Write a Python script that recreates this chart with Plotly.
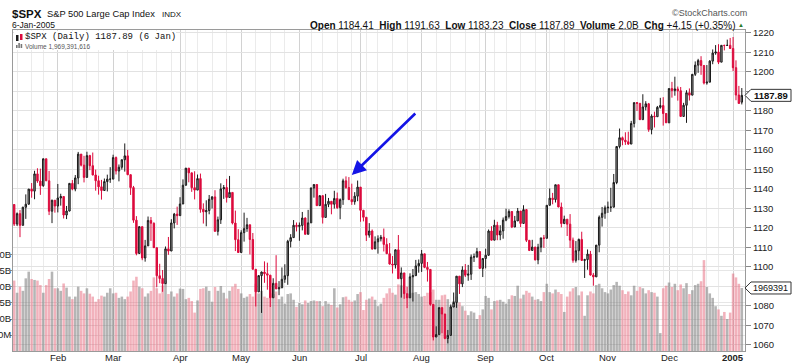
import pandas as pd
import plotly.graph_objects as go

# ---------------- data (S&P 500 daily, 9-Jan-2004 .. 6-Jan-2005) ----------------
holidays = ["2004-01-19", "2004-02-16", "2004-04-09", "2004-05-31", "2004-06-11",
            "2004-07-05", "2004-09-06", "2004-11-25", "2004-12-24"]

opens = [
 1131.92,1121.86,1127.23,1121.22,1130.52,1132.05,1139.83,1138.77,1147.62,1143.94,1141.55,1155.37,1144.05,1128.48,1134.11,
 1131.13,1135.26,1136.03,1126.52,1128.59,1142.76,1139.81,1145.54,1157.76,1152.11,1145.81,1156.99,1151.82,1147.06,1144.11,1140.99,1139.09,1143.67,1144.91,
 1144.94,1155.97,1149.10,1151.03,1154.87,1156.86,1147.20,1140.58,1123.89,1106.78,1120.57,1104.49,1110.70,1123.75,1122.32,1109.78,1095.40,1093.95,1091.33,1109.19,1108.06,1122.47,1127.00,
 1126.21,1132.17,1141.81,1150.57,1148.16,1140.53,1139.32,1145.20,1129.44,1128.17,1128.84,1134.61,1135.82,1118.15,1124.09,1139.93,1140.60,1135.53,1138.11,1122.41,1113.89,
 1107.30,1117.49,1119.55,1121.53,1113.99,1098.70,1087.12,1095.45,1097.28,1096.44,1095.70,1084.10,1091.49,1088.68,1089.19,1093.56,1095.41,1113.05,1114.94,1121.28,
 1120.68,1121.20,1124.99,1116.64,1122.50,1140.42,1142.18,1131.33,1136.47,1125.29,1132.01,1133.56,1132.05,1135.02,1130.30,1134.41,1144.06,1140.65,1134.43,1133.35,1136.20,
 1140.84,1128.94,1125.38,1116.21,1118.33,1109.11,1112.81,1114.35,1115.14,1111.47,1106.69,1101.39,1100.90,1108.67,1093.88,1096.84,1086.20,1084.07,1094.83,1095.42,1100.43,
 1101.72,1106.62,1099.69,1098.63,1080.70,1063.97,1065.22,1079.04,1075.79,1063.23,1064.80,1079.34,1081.71,1095.17,1091.23,1098.35,1095.68,1096.19,1104.96,1105.09,1107.77,1099.15,
 1104.24,1105.91,1118.31,1113.63,1121.30,1116.27,1118.38,1123.92,1125.82,1128.33,1120.37,1123.50,1128.55,1122.20,1129.30,1113.56,1108.36,1110.11,1103.52,1110.06,1114.80,
 1114.58,1131.50,1135.17,1134.48,1142.05,1130.65,1122.14,1124.39,1121.84,1113.65,1103.29,1108.20,1114.02,1103.23,1103.66,1106.49,1095.74,1094.81,1111.09,1125.34,1127.44,
 1130.20,1130.51,1130.54,1143.20,1161.67,1166.17,1164.89,1164.08,1162.91,1173.48,1184.17,1183.81,1175.43,1181.94,1183.55,1170.34,1177.24,1176.94,1181.76,1182.65,1178.57,
 1173.78,1191.37,1190.33,1191.17,1190.25,1177.07,1182.81,1189.24,1188.00,1198.68,1203.38,1205.72,1203.21,1194.20,1194.65,1205.45,1209.57,1210.13,1204.92,1213.54,1213.45,1213.55,
 1211.92,1202.08,1188.05,1184.41]

highs = [
 1131.92,1127.85,1129.07,1130.75,1137.11,1139.83,1142.93,1149.21,1150.51,1150.31,1155.38,1155.37,1149.14,1134.39,1134.17,
 1142.45,1137.44,1136.03,1131.17,1142.79,1144.46,1147.02,1158.89,1157.76,1156.88,1158.98,1157.40,1158.57,1149.81,1146.69,1144.54,1145.24,1147.23,1151.07,
 1157.45,1156.54,1152.44,1154.97,1163.23,1159.94,1147.32,1141.45,1125.96,1120.63,1120.57,1113.76,1125.76,1125.50,1122.72,1109.78,1101.52,1098.32,1110.38,1115.27,1124.37,1127.60,1130.83,
 1135.67,1144.81,1150.57,1150.57,1148.16,1148.97,1147.29,1147.78,1132.52,1134.08,1136.80,1136.18,1139.26,1125.72,1142.77,1141.92,1145.08,1146.56,1138.11,1128.80,1119.26,
 1118.72,1127.74,1125.07,1121.53,1117.30,1098.70,1095.69,1097.55,1102.77,1102.10,1095.70,1094.10,1105.93,1092.62,1099.64,1101.28,1113.80,1116.71,1123.95,1122.69,
 1122.70,1128.10,1125.31,1129.17,1140.54,1142.18,1142.18,1136.47,1136.47,1137.36,1135.28,1133.56,1138.96,1138.05,1135.05,1145.15,1146.34,1145.97,1142.60,1138.26,1144.20,
 1140.84,1129.15,1125.38,1122.37,1119.12,1115.57,1116.11,1116.30,1119.60,1114.63,1112.17,1105.52,1108.88,1116.27,1099.66,1096.84,1089.82,1096.65,1098.84,1103.51,1103.73,
 1108.60,1106.62,1102.45,1098.79,1080.70,1069.46,1079.04,1079.04,1075.79,1067.58,1080.66,1086.78,1095.17,1095.17,1100.26,1101.40,1100.94,1106.29,1106.78,1109.68,1107.77,1104.24,
 1109.24,1119.11,1120.80,1124.08,1123.05,1121.30,1125.26,1129.78,1129.46,1128.33,1126.06,1130.14,1128.55,1131.54,1129.30,1113.61,1113.81,1110.11,1111.77,1114.80,1116.31,
 1131.64,1140.13,1137.87,1142.05,1142.05,1132.92,1126.20,1124.39,1127.01,1114.96,1113.17,1114.46,1117.96,1104.09,1108.87,1108.14,1096.81,1111.10,1126.29,1130.67,1131.40,
 1133.41,1140.48,1147.57,1161.67,1170.87,1166.77,1168.96,1169.25,1174.80,1184.17,1184.48,1183.81,1188.46,1184.90,1184.00,1178.18,1179.52,1182.46,1186.62,1186.94,1178.66,
 1191.37,1194.80,1197.46,1192.41,1192.17,1184.05,1190.51,1191.45,1198.74,1205.29,1206.61,1207.97,1203.21,1203.43,1205.93,1211.42,1213.66,1214.13,1213.54,1213.85,1216.47,1217.33,
 1217.80,1205.84,1192.73,1191.63]

lows = [
 1120.90,1120.90,1115.19,1121.22,1124.54,1132.05,1135.40,1134.62,1143.01,1136.85,1141.00,1144.05,1126.50,1122.38,1127.73,
 1127.87,1131.33,1124.74,1124.44,1128.39,1139.21,1138.70,1142.33,1151.44,1143.24,1145.81,1149.54,1146.85,1139.00,1136.98,1134.43,1138.96,1138.62,1143.01,
 1144.94,1147.31,1143.78,1149.81,1148.77,1146.97,1136.84,1122.53,1105.87,1106.78,1103.36,1102.61,1110.70,1113.25,1109.69,1089.54,1091.57,1087.16,1091.33,1106.13,1108.06,1119.66,1121.46,
 1126.20,1132.17,1141.64,1143.30,1138.41,1134.52,1139.32,1127.70,1122.15,1120.75,1126.90,1129.84,1118.09,1116.03,1121.95,1134.81,1132.91,1135.53,1121.70,1108.04,1107.23,
 1107.30,1112.89,1117.90,1106.30,1098.63,1079.63,1087.12,1076.32,1091.76,1088.24,1079.36,1084.10,1088.49,1085.43,1089.19,1091.77,1090.74,1109.91,1114.86,1118.10,
 1113.32,1118.64,1116.57,1116.64,1122.50,1135.45,1131.17,1131.33,1122.16,1125.29,1130.55,1126.89,1129.83,1129.64,1124.37,1131.73,1139.94,1134.24,1131.72,1131.81,1133.62,
 1123.06,1123.26,1113.21,1114.92,1108.72,1109.11,1106.71,1112.99,1107.83,1106.67,1101.07,1096.55,1099.10,1093.88,1084.16,1083.56,1078.78,1084.07,1082.17,1095.42,1096.96,
 1097.34,1099.26,1092.40,1079.98,1062.23,1063.97,1065.22,1065.92,1062.82,1060.72,1064.80,1079.34,1078.93,1086.06,1089.57,1094.73,1092.82,1093.24,1102.46,1104.62,1099.15,1094.72,
 1099.18,1105.60,1113.57,1113.63,1113.61,1113.62,1114.39,1123.35,1124.72,1119.82,1120.37,1123.50,1120.34,1122.20,1112.67,1108.05,1108.36,1103.24,1101.29,1107.42,1109.68,
 1114.58,1131.50,1132.03,1132.94,1130.50,1120.19,1122.14,1115.77,1109.63,1102.06,1102.14,1103.33,1103.15,1094.25,1098.47,1095.47,1090.29,1094.81,1107.43,1120.60,1124.62,
 1127.60,1128.12,1130.54,1142.34,1160.66,1162.32,1162.48,1162.51,1162.91,1171.43,1179.85,1175.32,1175.43,1180.15,1169.19,1167.89,1171.41,1176.94,1181.08,1172.37,1173.81,
 1173.78,1186.72,1187.71,1185.18,1177.07,1177.07,1173.79,1185.24,1188.00,1197.84,1199.44,1198.41,1193.49,1193.36,1194.65,1203.85,1208.71,1203.92,1204.92,1210.95,1213.41,1211.65,
 1200.32,1185.39,1183.72,1183.23]

closes = [
 1121.86,1127.23,1121.22,1130.52,1132.05,1139.83,1138.77,1147.62,1143.94,1141.55,1155.37,1144.05,1128.48,1134.11,1131.13,
 1135.26,1136.03,1126.52,1128.59,1142.76,1139.81,1145.54,1157.76,1152.11,1145.81,1156.99,1151.82,1147.06,1144.11,1140.99,1139.09,1143.67,1144.91,1144.94,
 1155.97,1149.10,1151.03,1154.87,1156.86,1147.20,1140.58,1123.89,1106.78,1120.57,1104.49,1110.70,1123.75,1122.32,1109.78,1095.40,1093.95,1091.33,1109.19,1108.06,1122.47,1127.00,1126.21,
 1132.17,1141.81,1150.57,1148.16,1140.53,1139.32,1145.20,1129.44,1128.17,1128.84,1134.61,1135.82,1118.15,1124.09,1139.93,1140.60,1135.53,1138.11,1122.41,1113.89,1107.30,
 1117.49,1119.55,1121.53,1113.99,1098.70,1087.12,1095.45,1097.28,1096.44,1095.70,1084.10,1091.49,1088.68,1089.19,1093.56,1095.41,1113.05,1114.94,1121.28,1120.68,
 1121.20,1124.99,1116.64,1122.50,1140.42,1142.18,1131.33,1136.47,1125.29,1132.01,1133.56,1132.05,1135.02,1130.30,1134.41,1144.06,1140.65,1134.43,1133.35,1136.20,1140.84,
 1128.94,1125.38,1116.21,1118.33,1109.11,1112.81,1114.35,1115.14,1111.47,1106.69,1101.39,1100.90,1108.67,1093.88,1096.84,1086.20,1084.07,1094.83,1095.42,1100.43,1101.72,
 1106.62,1099.69,1098.63,1080.70,1063.97,1065.22,1079.04,1075.79,1063.23,1064.80,1079.34,1081.71,1095.17,1091.23,1098.35,1095.68,1096.19,1104.96,1105.09,1107.77,1099.15,1104.24,
 1105.91,1118.31,1113.63,1121.30,1116.27,1118.38,1123.92,1125.82,1128.33,1120.37,1123.50,1128.55,1122.20,1129.30,1113.56,1108.36,1110.11,1103.52,1110.06,1114.80,1114.58,
 1131.50,1135.17,1134.48,1142.05,1130.65,1122.14,1124.39,1121.84,1113.65,1103.29,1108.20,1114.02,1103.23,1103.66,1106.49,1095.74,1094.80,1111.09,1125.40,1127.44,1130.20,
 1130.51,1130.56,1143.20,1161.67,1166.17,1164.89,1164.08,1162.91,1173.48,1184.17,1183.81,1175.43,1181.94,1183.55,1170.34,1177.24,1176.94,1181.76,1182.65,1178.57,1173.82,
 1191.37,1190.33,1191.17,1190.25,1177.07,1182.81,1189.24,1188.00,1198.68,1203.38,1205.72,1203.21,1194.20,1194.65,1205.45,1209.57,1210.13,1204.92,1213.54,1213.45,1213.55,1211.92,
 1202.08,1188.05,1183.74,1187.89]

# volume in billions of shares
volumes_b = [
 2.20,1.82,2.01,1.88,2.27,2.48,2.25,2.22,2.20,2.06,1.82,2.06,2.25,2.48,1.96,
 1.96,1.88,2.11,1.98,1.70,1.62,1.70,2.01,1.88,1.80,1.96,1.79,1.70,1.54,1.62,1.73,1.70,1.82,1.96,
 1.80,1.82,1.66,1.70,1.62,1.70,1.86,2.20,2.32,2.01,1.96,1.70,1.80,1.88,2.30,1.96,1.80,2.05,2.20,1.78,1.86,1.70,1.80,
 1.95,1.94,1.62,1.66,1.56,1.20,1.58,1.94,1.96,2.01,1.88,1.54,2.00,1.88,2.03,1.82,1.64,1.88,2.01,2.10,1.94,
 1.80,1.66,1.70,1.78,1.70,2.10,1.80,1.88,1.70,1.66,1.80,1.78,1.86,1.62,1.70,1.48,1.78,1.80,1.60,1.38,
 1.50,1.46,1.58,1.50,1.56,1.58,1.56,1.56,1.40,1.56,1.48,1.44,1.96,1.36,1.46,1.68,1.70,1.60,1.54,1.58,1.78,
 1.84,1.28,1.60,1.64,1.70,1.60,1.40,1.48,1.66,1.80,1.96,1.82,1.76,2.08,2.05,1.90,1.68,1.80,1.82,1.84,1.78,
 1.70,1.72,1.82,1.84,1.92,1.60,1.60,1.74,1.76,1.62,1.42,1.56,1.70,1.52,1.40,1.26,1.12,1.24,1.20,1.00,1.12,1.30,
 1.72,1.66,1.30,1.56,1.58,1.60,1.54,1.48,1.62,1.74,1.72,2.04,1.64,1.76,1.88,1.82,1.70,1.60,1.62,1.56,1.84,
 2.10,1.84,1.80,1.92,1.84,1.78,1.22,1.70,1.86,1.96,2.00,1.74,1.86,1.10,1.74,1.86,1.80,2.06,2.10,1.96,1.84,
 1.80,1.92,2.06,2.16,2.04,1.90,1.78,1.86,1.74,2.04,1.88,2.00,1.96,1.80,1.90,1.84,1.82,1.70,0.56,1.96,2.04,
 2.14,2.00,2.10,1.90,2.08,1.96,2.12,1.78,1.90,2.06,2.10,2.18,2.84,2.00,1.80,1.66,1.40,1.30,1.10,1.22,1.00,1.20,
 2.42,2.30,2.10,1.969391616]

month_labels = ["Feb", "Mar", "Apr", "May", "Jun", "Jul", "Aug", "Sep", "Oct", "Nov", "Dec", "<b>2005</b>"]
volume_ticks_b = [0.5, 1.0, 1.5, 2.0, 2.5, 3.0]
volume_tick_text = ["500M", "1.0B", "1.5B", "2.0B", "2.5B", "3.0B"]
price_ticks = list(range(1060, 1230, 10))

# ---------------- calendar ----------------
dates = [d for d in pd.bdate_range("2004-01-09", "2005-01-06") if d.strftime("%Y-%m-%d") not in holidays]
n = len(dates)
idx = list(range(n))
month_starts = [i for i in range(1, n) if dates[i].month != dates[i - 1].month]
week_starts = [i for i in range(1, n) if dates[i].weekday() < dates[i - 1].weekday()]

prev_close = [opens[0]] + closes[:-1]
up = [c >= p for c, p in zip(closes, prev_close)]
volumes = [v * 1e9 for v in volumes_b]
last_volume = int(round(volumes[-1]))

RED = "#dc0a3c"
BLK = "#1a1a1a"

# ---------------- geometry ----------------
W, H = 800, 364
L, R, T, B = 13, 55, 30, 13
pw, ph = W - L - R, H - T - B
def xp(px): return (px - L) / pw
def yp(py): return (H - B - py) / ph

FONT = "Arial, Liberation Sans, sans-serif"

fig = go.Figure()

# volume bars (base axis, drawn behind)
fig.add_trace(go.Bar(
    x=idx, y=volumes, yaxis="y", xaxis="x",
    marker=dict(color=["rgba(120,120,120,0.55)" if u else "rgba(228,95,115,0.48)" for u in up],
                line=dict(width=0)),
    hoverinfo="skip", showlegend=False))

# candles: black = close above previous close, red = below
for flag, col in [(True, BLK), (False, RED)]:
    sel = [i for i in idx if up[i] == flag]
    fig.add_trace(go.Candlestick(
        x=sel, open=[opens[i] for i in sel], high=[highs[i] for i in sel],
        low=[lows[i] for i in sel], close=[closes[i] for i in sel],
        xaxis="x", yaxis="y2", whiskerwidth=0,
        increasing=dict(line=dict(color=col, width=1), fillcolor="#9c9c9c" if flag else "#f4c0c8"),
        decreasing=dict(line=dict(color=col, width=1), fillcolor=col),
        hoverinfo="skip", showlegend=False))

price_text = [("" if v in (1090, 1190) else str(v)) for v in price_ticks]

fig.update_layout(
    width=W, height=H, margin=dict(l=L, r=R, t=T, b=B, autoexpand=False),
    paper_bgcolor="white", plot_bgcolor="white",
    font=dict(family=FONT, size=10, color="#222"),
    bargap=0.12, showlegend=False,
    xaxis=dict(range=[-0.4, n + 0.1], tickmode="array", tickvals=month_starts,
               showticklabels=False, ticks="",
               showgrid=True, gridcolor="#d2d2d2",
               gridwidth=1, zeroline=False, showline=True, linecolor="#9a9a9a", mirror=True,
               rangeslider=dict(visible=False), automargin=False,
               minor=dict(tickmode="array", tickvals=week_starts, showgrid=True, gridcolor="#ebebeb",
                          ticks="")),
    yaxis=dict(range=[0, 10.03e9], side="left", tickmode="array",
               tickvals=[v * 1e9 for v in volume_ticks_b], ticktext=volume_tick_text,
               ticks="outside", ticklen=2, tickcolor="#888", ticklabelstandoff=-3,
               tickfont=dict(size=9.5, color="#222"),
               showgrid=True, gridcolor="#e6e6e6", zeroline=False, showline=True,
               linecolor="#9a9a9a", automargin=False),
    yaxis2=dict(range=[1056.8, 1221.4], overlaying="y", side="right", anchor="x",
                tickmode="array", tickvals=price_ticks, ticktext=price_text, ticks="outside", ticklen=5,
                tickcolor="#888", tickfont=dict(size=9.5, color="#222"),
                showgrid=True, gridcolor="#e2e2e2", zeroline=False, showline=True,
                linecolor="#9a9a9a", automargin=False),
)

ann = []
shapes = []

# month labels under the axis
for pos, lab in zip(month_starts, month_labels):
    ann.append(dict(xref="x", yref="paper", x=pos, y=yp(358), xanchor="center", yanchor="middle",
                    text=lab, showarrow=False, borderpad=0,
                    font=dict(size=9.5, color="#222", family=FONT)))

# header
ann.append(dict(xref="paper", yref="paper", x=xp(10), y=yp(14), xanchor="left", yanchor="middle",
                text="<b>$SPX</b>", showarrow=False, font=dict(size=11.5, color="#111", family=FONT)))
ann.append(dict(xref="paper", yref="paper", x=xp(45), y=yp(14), xanchor="left", yanchor="middle",
                text="S&P 500 Large Cap Index", showarrow=False, font=dict(size=9.3, color="#111", family=FONT)))
ann.append(dict(xref="paper", yref="paper", x=xp(160), y=yp(14), xanchor="left", yanchor="middle",
                text="INDX", showarrow=False, font=dict(size=8, color="#111", family=FONT)))
ann.append(dict(xref="paper", yref="paper", x=xp(10), y=yp(25), xanchor="left", yanchor="middle",
                text=dates[-1].strftime("%-d-%b-%Y"), showarrow=False, font=dict(size=8.5, color="#111", family=FONT)))
chg = closes[-1] - closes[-2]
pct = chg / closes[-2] * 100
hdr = ("<b>Open</b> {:.2f}  <b>High</b> {:.2f}  <b>Low</b> {:.2f}  <b>Close</b> {:.2f}  "
       "<b>Volume</b> {:.1f}B  <b>Chg</b> {:+.2f} ({:+.2f}%)").format(
    opens[-1], highs[-1], lows[-1], closes[-1], volumes_b[-1], chg, pct)
ann.append(dict(xref="paper", yref="paper", x=xp(737), y=yp(25), xanchor="right", yanchor="middle",
                text=hdr, showarrow=False, font=dict(size=10, color="#111", family=FONT)))
ann.append(dict(xref="paper", yref="paper", x=xp(736), y=yp(25), xanchor="left", yanchor="middle",
                text="▲", showarrow=False, font=dict(size=6, color="#2a7a2a", family=FONT)))
ann.append(dict(xref="paper", yref="paper", x=xp(749), y=yp(13), xanchor="right", yanchor="middle",
                text="©StockCharts.com", showarrow=False, font=dict(size=9, color="#555", family=FONT)))

# in-chart legend box
shapes.append(dict(type="rect", xref="paper", yref="paper", x0=xp(14), x1=xp(176), y0=yp(31), y1=yp(50),
                   fillcolor="white", line=dict(width=0), layer="above"))
shapes.append(dict(type="rect", xref="paper", yref="paper", x0=xp(16), x1=xp(18.5), y0=yp(35), y1=yp(41),
                   fillcolor=BLK, line=dict(width=0), layer="above"))
shapes.append(dict(type="rect", xref="paper", yref="paper", x0=xp(20), x1=xp(22.5), y0=yp(34), y1=yp(40),
                   fillcolor=RED, line=dict(width=0), layer="above"))
for k, hgt in enumerate([3, 5, 4]):
    shapes.append(dict(type="rect", xref="paper", yref="paper", x0=xp(16 + 2.3 * k), x1=xp(17.6 + 2.3 * k),
                       y0=yp(48), y1=yp(48 - hgt), fillcolor="#777", line=dict(width=0), layer="above"))
ann.append(dict(xref="paper", yref="paper", x=xp(23), y=yp(37.5), xanchor="left", yanchor="middle",
                text="$SPX (Daily) {:.2f} ({})".format(closes[-1], dates[-1].strftime("%-d %b")),
                showarrow=False, font=dict(size=9, color="#111", family="Liberation Mono, DejaVu Sans Mono, monospace")))
ann.append(dict(xref="paper", yref="paper", x=xp(23), y=yp(46), xanchor="left", yanchor="middle",
                text="Volume {:,}".format(last_volume), showarrow=False,
                font=dict(size=6.5, color="#555", family=FONT)))

# last-value markers on the right axis
def marker(yref, yval, unit_per_px, text, bold, size):
    hh = 6 * unit_per_px
    x0 = 1 + 0 / pw
    x1 = 1 + 6 / pw
    x2 = 1 + 46 / pw
    shapes.append(dict(type="path", xref="paper", yref=yref,
                       path="M {a},{y} L {b},{t} L {c},{t} L {c},{bt} L {b},{bt} Z".format(
                           a=x0, b=x1, c=x2, y=yval, t=yval + hh, bt=yval - hh),
                       fillcolor="white", line=dict(color="#333", width=1), layer="above"))
    ann.append(dict(xref="paper", yref=yref, x=1 + 25.5 / pw, y=yval, xanchor="center", yanchor="middle",
                    text=("<b>%s</b>" % text) if bold else text, showarrow=False, borderpad=0,
                    font=dict(size=size, color="#111", family=FONT)))

marker("y2", closes[-1], 1 / 1.95, "{:.2f}".format(closes[-1]), True, 9.5)
marker("y", volumes[-1], 1e9 / 32, str(last_volume)[:7], False, 9)

# blue arrow pointing at the June high
ann.append(dict(xref="x", yref="y2", x=116, y=1147, ax=65, ay=-63, axref="pixel", ayref="pixel",
                showarrow=True, arrowhead=2, arrowsize=1.1, arrowwidth=2.6, arrowcolor="#1414e6", text=""))

fig.update_layout(annotations=ann, shapes=shapes)
fig.write_html("out.html", config={"displayModeBar": False, "staticPlot": True},
               post_script="document.body.style.margin='0';document.body.style.padding='0';")
